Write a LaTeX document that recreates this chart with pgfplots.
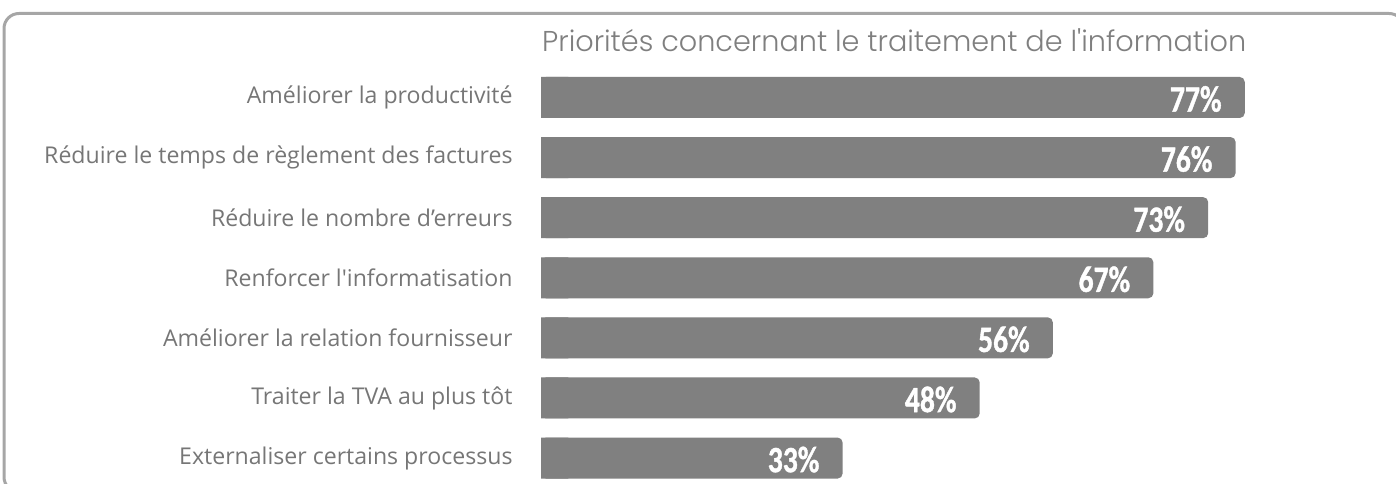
\documentclass[border=0pt]{standalone}
\usepackage{pgfplots}
\pgfplotsset{compat=1.18}
\usepackage{graphicx}
\usepackage{fontspec}
\setmainfont{Open Sans}
\newfontfamily\titlefont{Poppins}[UprightFont={* Light}]
\newfontfamily\valfont{Carlito}[UprightFont={* Bold}, FakeBold=1.2]
\definecolor{bargray}{HTML}{808080}
\definecolor{labgray}{HTML}{767676}
\definecolor{framegray}{HTML}{A6A6A6}
\definecolor{titlegray}{HTML}{7F7F7F}
\pgfplotstableread{
y v
0 77
1 76
2 73
3 67
4 56
5 48
6 33
}\datatab
\begin{document}
\begin{tikzpicture}[x=1pt,y=1pt]
\path[use as bounding box] (0,0) rectangle (1396,484);
\draw[framegray, line width=3pt, rounded corners=15pt] (4,-8) rectangle (1404,470.5);
\node[anchor=base west, inner sep=0pt, font=\titlefont\fontsize{28.7}{34}\selectfont, text=titlegray] at (542,432) {Priorités concernant le traitement de l\textquotesingle information};
\begin{axis}[
 at={(541pt,431.6pt)}, anchor=north west,
 scale only axis, width=850pt, height=432.7pt,
 xmin=0, xmax=93, ymin=-0.75, ymax=6.45, y dir=reverse,
 axis line style={draw=none}, tick style={draw=none},
 xtick=\empty, ytick={0,1,2,3,4,5,6},
 yticklabels={Améliorer la productivité, Réduire le temps de règlement des factures, Réduire le nombre d’erreurs, Renforcer l\textquotesingle informatisation, Améliorer la relation fournisseur, Traiter la TVA au plus tôt, Externaliser certains processus},
 yticklabel style={font=\fontsize{23.1}{27}\selectfont, text=labgray, anchor=east, inner sep=0pt, xshift=-24pt},
 xbar, bar width=41pt, bar shift=0pt,
 clip=false,
]
\addplot[fill=bargray, draw=none, rounded corners=5pt,
  nodes near coords={\scalebox{0.8}[1]{\pgfmathprintnumber[assume math mode=true]{\pgfplotspointmeta}\%}},
  point meta=x,
  nodes near coords style={anchor=east, inner sep=0pt, xshift=-23pt, yshift=-1.5pt, text=white, font=\valfont\fontsize{37}{40}\selectfont}]
  table[x=v, y=y] {\datatab};
\addplot[fill=bargray, draw=none] coordinates {(3,0) (3,1) (3,2) (3,3) (3,4) (3,5) (3,6)};
\end{axis}
\end{tikzpicture}
\end{document}
